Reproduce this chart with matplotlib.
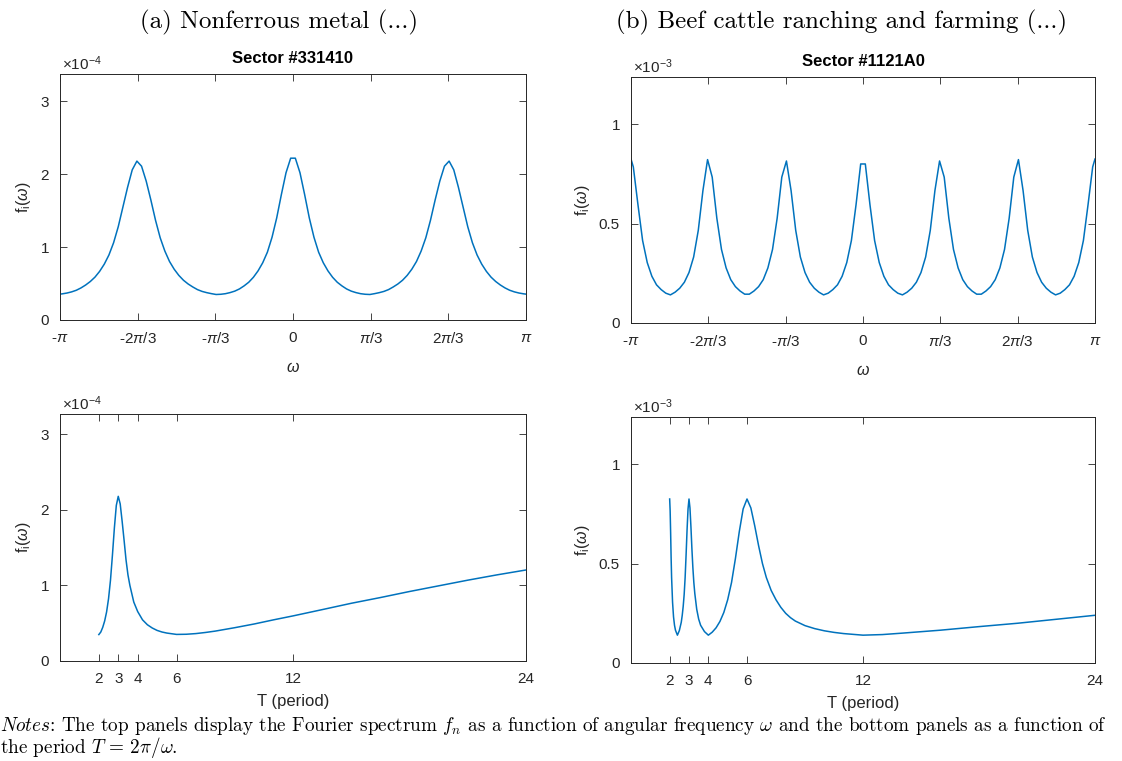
import numpy as np
import matplotlib
matplotlib.use('Agg')
import matplotlib.pyplot as plt
from matplotlib.ticker import FuncFormatter

plt.rcParams['font.family'] = ['Liberation Sans', 'DejaVu Sans']
plt.rcParams['mathtext.fontset'] = 'custom'
plt.rcParams['mathtext.rm'] = 'Liberation Sans'
plt.rcParams['mathtext.it'] = 'Liberation Sans:italic'
plt.rcParams['mathtext.bf'] = 'Liberation Sans:bold'
plt.rcParams['axes.unicode_minus'] = False


# %% Spectra on the omega grid (positive half; f is even in omega)
omega_half = np.append(np.arange(1, 100, 2) * np.pi / 100, np.pi)

# Sector 331410, units of 1e-4
spec_a_half = [2.22, 2.02, 1.72, 1.40, 1.135, 0.93, 0.785, 0.674, 0.586, 0.518,
               0.468, 0.426, 0.396, 0.376, 0.361, 0.353, 0.350, 0.3615, 0.375, 0.392,
               0.417, 0.453, 0.494, 0.545, 0.612, 0.697, 0.803, 0.946, 1.128, 1.368,
               1.646, 1.905, 2.11, 2.18, 2.06, 1.82, 1.55, 1.28, 1.06, 0.892,
               0.766, 0.667, 0.588, 0.528, 0.48, 0.44, 0.408, 0.386, 0.37, 0.359,
               0.355]

# Sector 1121A0, units of 1e-3
spec_b_half = [0.80, 0.595, 0.415, 0.304, 0.235, 0.192, 0.168, 0.15, 0.1415, 0.155,
               0.175, 0.205, 0.254, 0.332, 0.466, 0.666, 0.815, 0.734, 0.527, 0.37,
               0.277, 0.218, 0.183, 0.161, 0.145, 0.145, 0.161, 0.183, 0.218, 0.277,
               0.37, 0.527, 0.734, 0.822, 0.666, 0.466, 0.332, 0.254, 0.205, 0.175,
               0.155, 0.1415, 0.15, 0.168, 0.192, 0.235, 0.304, 0.415, 0.595, 0.785,
               0.825]

# %% Same spectra against the period T
period_a = [2.0, 2.1, 2.2, 2.3, 2.4, 2.5, 2.6, 2.7, 2.8, 2.9, 3.0, 3.1, 3.2,
            3.3, 3.4, 3.5, 3.6, 3.8, 4.0, 4.25, 4.5, 4.75, 5.0, 5.25, 5.5, 6.0,
            6.5, 7.0, 7.5, 8.0, 9.0, 10.0, 11.0, 12.0, 13.5, 15.0, 16.5, 18.0,
            19.5, 21.0, 22.5, 24.0]
spec_a_T = [0.35, 0.383, 0.445, 0.53, 0.65, 0.825, 1.07, 1.40, 1.76, 2.06,
            2.18, 2.08, 1.85, 1.60, 1.34, 1.14, 1.0, 0.78, 0.655, 0.545, 0.48,
            0.437, 0.405, 0.384, 0.37, 0.352, 0.354, 0.363, 0.378, 0.396, 0.441,
            0.49, 0.545, 0.597, 0.68, 0.764, 0.84, 0.92, 0.995, 1.07, 1.14, 1.205]

period_b = [2.0, 2.025, 2.05, 2.075, 2.1, 2.15, 2.2, 2.25, 2.3, 2.4, 2.5, 2.6,
            2.65, 2.7, 2.75, 2.8, 2.85, 2.9, 2.95, 3.0, 3.05, 3.1, 3.15, 3.2,
            3.25, 3.3, 3.4, 3.5, 3.6, 3.8, 4.0, 4.2, 4.4, 4.6, 4.8, 5.0, 5.2,
            5.4, 5.6, 5.8, 6.0, 6.2, 6.4, 6.6, 6.8, 7.0, 7.25, 7.5, 7.75, 8.0,
            8.25, 8.5, 9.0, 9.5, 10.0, 10.5, 11.0, 12.0, 13.0, 14.0, 16.0, 18.0,
            20.0, 22.0, 24.0]
spec_b_T = [0.825, 0.765, 0.655, 0.53, 0.43, 0.305, 0.232, 0.19, 0.165, 0.14,
            0.163, 0.205, 0.24, 0.285, 0.345, 0.43, 0.545, 0.67, 0.775, 0.825,
            0.78, 0.685, 0.575, 0.48, 0.405, 0.35, 0.27, 0.221, 0.19, 0.158,
            0.14, 0.155, 0.177, 0.209, 0.254, 0.318, 0.405, 0.525, 0.66, 0.775,
            0.825, 0.78, 0.69, 0.59, 0.50, 0.43, 0.365, 0.318, 0.28, 0.25,
            0.228, 0.211, 0.188, 0.173, 0.162, 0.154, 0.148, 0.14, 0.143, 0.15,
            0.165, 0.183, 0.20, 0.22, 0.24]

scale_a = 1e-4
scale_b = 1e-3

omega_ticks = np.array([-3, -2, -1, 0, 1, 2, 3]) * np.pi / 3
omega_labels = [r'-$\pi$', r'-2$\pi$/3', r'-$\pi$/3', '0', r'$\pi$/3', r'2$\pi$/3', r'$\pi$']
period_ticks = [2, 3, 4, 6, 12, 24]

line_color = '#0072BD'
axis_color = '#262626'


def full_spectrum(half):
    half = np.asarray(half)
    return np.concatenate([-omega_half[::-1], omega_half]), np.concatenate([half[::-1], half])


def style_axes(ax, ymax, yticks, sc, exp_label):
    ax.set_ylim(0, ymax)
    ax.set_yticks(yticks)
    ax.yaxis.set_major_formatter(FuncFormatter(lambda v, p: f'{v / sc:g}'))
    ax.tick_params(direction='in', top=True, right=True, length=5, width=0.6,
                   colors=axis_color, labelsize=11, pad=8)
    for s in ax.spines.values():
        s.set_color(axis_color)
        s.set_linewidth(0.7)
    ax.text(0.004, 1.006, exp_label, transform=ax.transAxes, ha='left', va='bottom',
            fontsize=11, color=axis_color)
    ax.set_ylabel(r'f$_{\rm i}$($\omega$)', fontsize=11.5, color=axis_color, labelpad=5)


fig = plt.figure(figsize=(11.22, 7.61), dpi=100)

W, H = 1122, 761
def px_axes(x0, y0, x1, y1):
    return fig.add_axes([x0 / W, 1 - y1 / H, (x1 - x0) / W, (y1 - y0) / H])

ax_tl = px_axes(60, 74, 526, 320)
ax_tr = px_axes(631, 77, 1095, 323)
ax_bl = px_axes(60, 414, 526, 661)
ax_br = px_axes(631, 417, 1095, 663)

# top row: spectrum vs angular frequency
for ax, half, sc, ymax, yt, exp_label, title in [
        (ax_tl, spec_a_half, scale_a, 3.375e-4, [0, 1e-4, 2e-4, 3e-4],
         r'$\times$10$^{-4}$', 'Sector #331410'),
        (ax_tr, spec_b_half, scale_b, 1.2375e-3, [0, 0.5e-3, 1e-3],
         r'$\times$10$^{-3}$', 'Sector #1121A0')]:
    w, f = full_spectrum(half)
    ax.plot(w, f * sc, color=line_color, lw=1.1)
    ax.set_xlim(-np.pi, np.pi)
    ax.set_xticks(omega_ticks)
    ax.set_xticklabels(omega_labels)
    style_axes(ax, ymax, yt, sc, exp_label)
    ax.set_xlabel(r'$\omega$', fontsize=11.5, color=axis_color, labelpad=10)
    ax.set_title(title, fontsize=12, fontweight='bold', pad=8)

# bottom row: spectrum vs period
for ax, T, f, sc, ymax, yt, exp_label in [
        (ax_bl, period_a, spec_a_T, scale_a, 3.27e-4, [0, 1e-4, 2e-4, 3e-4],
         r'$\times$10$^{-4}$'),
        (ax_br, period_b, spec_b_T, scale_b, 1.2375e-3, [0, 0.5e-3, 1e-3],
         r'$\times$10$^{-3}$')]:
    ax.plot(T, np.asarray(f) * sc, color=line_color, lw=1.1)
    ax.set_xlim(0, 24)
    ax.set_xticks(period_ticks)
    style_axes(ax, ymax, yt, sc, exp_label)
    ax.set_xlabel('T (period)', fontsize=12, color=axis_color, labelpad=6)

fig.text(279 / W, 1 - 22 / H, '(a) Nonferrous metal (...)', family='cmr10',
         fontsize=18, ha='center', va='center')
fig.text(841 / W, 1 - 22 / H, '(b) Beef cattle ranching and farming (...)',
         family='cmr10', fontsize=18, ha='center', va='center')

fig.text(0.0, 1 - 726 / H,
         r'$\it{Notes}$: The top panels display the Fourier spectrum $f_n$ as a function of '
         r'angular frequency $\omega$ and the bottom panels as a function of',
         family='cmr10', math_fontfamily='cm', fontsize=13.8, ha='left', va='center')
fig.text(0.0, 1 - 748 / H, r'the period $T\,=\,2\pi/\omega$.',
         family='cmr10', math_fontfamily='cm', fontsize=13.8, ha='left', va='center')

fig.savefig('out.png', dpi=100)
